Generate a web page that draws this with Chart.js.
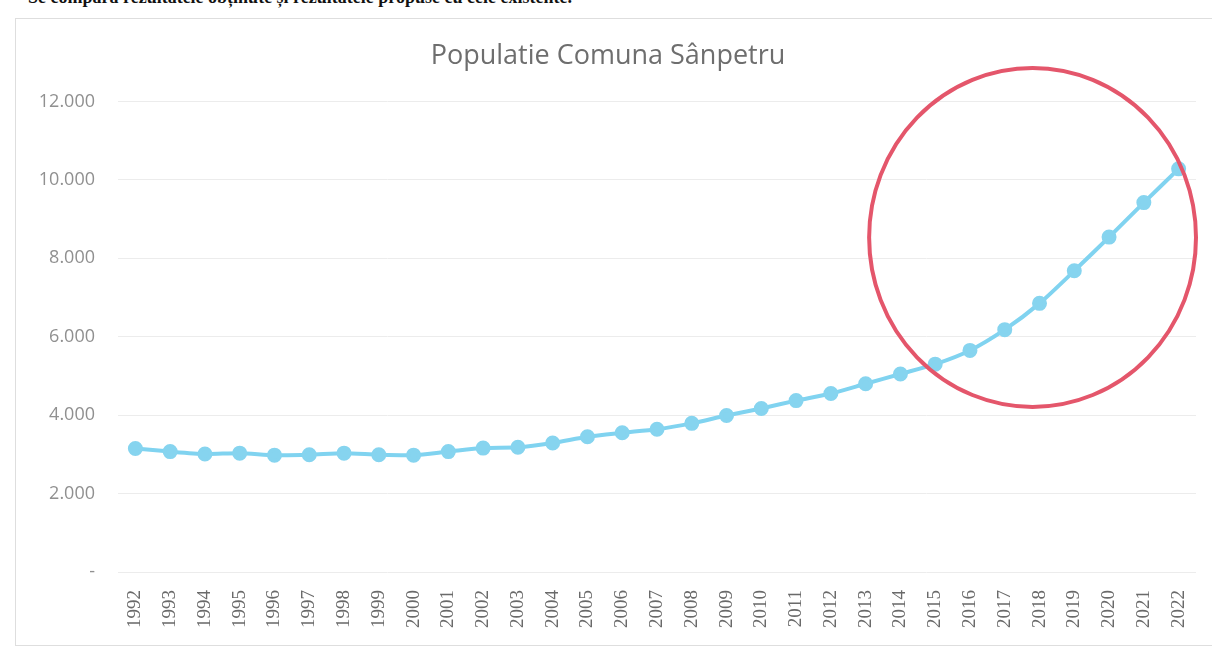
<!DOCTYPE html>
<html lang="ro">
<head>
  <meta charset="UTF-8" />
  <title>Populatie Comuna Sânpetru</title>
  <script src="https://cdn.jsdelivr.net/npm/chart.js"></script>
  <style>
    html, body { margin: 0; padding: 0; background: #fff; }
    body { width: 1212px; height: 652px; position: relative; overflow: hidden; }
    .cut-text {
      position: absolute; left: 28px; top: -13px;
      font: bold 18px 'Liberation Serif', serif; color: #111; white-space: nowrap;
    }
    .frame {
      position: absolute; left: 15px; top: 18px; width: 1210px; height: 626px;
      border: 1px solid #dedede;
    }
    .wrap { position: absolute; left: 0; top: 0; width: 1212px; height: 652px; }
  </style>
</head>
<body>
  <div class="cut-text">Se compară rezultatele obținute și rezultatele propuse cu cele existente.</div>
  <div class="frame"></div>
  <div class="wrap"><canvas id="popChart"></canvas></div>

  <script>
    const years = ['1992','1993','1994','1995','1996','1997','1998','1999','2000','2001','2002',
      '2003','2004','2005','2006','2007','2008','2009','2010','2011','2012','2013','2014','2015',
      '2016','2017','2018','2019','2020','2021','2022'];
    const population = [3150, 3070, 3010, 3030, 2980, 2990, 3030, 2990, 2980, 3070, 3160,
      3180, 3290, 3450, 3550, 3640, 3790, 3990, 4170, 4370, 4550, 4800, 5050, 5300,
      5650, 6180, 6850, 7680, 8540, 9420, 10280];
    const yMax = 12000;
    const yStep = 2000;

    // hand drawn ring around the last years (in axis units)
    const ringCenterIndex = 25.8;
    const ringCenterValue = 8530;
    const ringRadiusIndex = 4.7;
    const ringRadiusValue = 4320;

    function fmt(v) {
      if (v === 0) return '-';
      return String(v).replace(/\B(?=(\d{3})+(?!\d))/g, '.');
    }

    const ringPlugin = {
      id: 'ring',
      afterDatasetsDraw(chart) {
        const { ctx, scales: { x, y } } = chart;
        const cx = x.getPixelForValue(ringCenterIndex);
        const cy = y.getPixelForValue(ringCenterValue);
        const rx = x.getPixelForValue(ringCenterIndex + ringRadiusIndex) - cx;
        const ry = cy - y.getPixelForValue(ringCenterValue + ringRadiusValue);
        ctx.save();
        ctx.beginPath();
        ctx.ellipse(cx, cy, rx, ry, 0, 0, Math.PI * 2);
        ctx.strokeStyle = '#e4566b';
        ctx.lineWidth = 4;
        ctx.stroke();
        ctx.restore();
      }
    };

    new Chart(document.getElementById('popChart'), {
      type: 'line',
      data: {
        labels: years,
        datasets: [{
          label: 'Populatie',
          data: population,
          borderColor: '#80d3f0',
          backgroundColor: '#80d3f0',
          borderWidth: 4,
          pointRadius: 5.5,
          pointBackgroundColor: '#86d4ef',
          pointBorderColor: '#86d4ef',
          tension: 0.25,
          fill: false
        }]
      },
      options: {
        responsive: true,
        maintainAspectRatio: false,
        animation: false,
        layout: { padding: { left: 20, right: 16, top: 0, bottom: 0 } },
        plugins: {
          legend: { display: false },
          tooltip: { enabled: false },
          title: {
            display: true,
            text: 'Populatie Comuna Sânpetru',
            color: '#6e6e6e',
            font: { family: 'Open Sans', size: 27, weight: 'normal' },
            padding: { top: 40, bottom: 29 }
          }
        },
        scales: {
          x: {
            offset: true,
            grid: { display: false },
            border: { display: false },
            afterFit(scale) { scale.height = 80; },
            ticks: {
              autoSkip: false,
              minRotation: 90,
              maxRotation: 90,
              padding: 10,
              color: '#6a6a6a',
              font: { family: 'Liberation Serif', size: 19 }
            }
          },
          y: {
            min: 0,
            max: yMax,
            border: { display: false },
            afterFit(scale) { scale.width = 98; },
            grid: { color: '#ececec', lineWidth: 1, drawTicks: false },
            ticks: {
              stepSize: yStep,
              padding: 23,
              color: '#909090',
              font: { family: 'Open Sans', size: 18 },
              callback: (v) => fmt(v)
            }
          }
        }
      },
      plugins: [ringPlugin]
    });
  </script>
</body>
</html>
